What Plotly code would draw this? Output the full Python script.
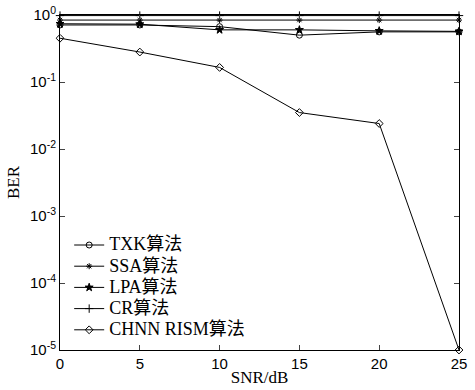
import plotly.graph_objects as go

snr = [0, 5, 10, 15, 20, 25]
txk = [0.71, 0.71, 0.67, 0.50, 0.56, 0.56]
ssa = [0.84, 0.84, 0.84, 0.84, 0.84, 0.84]
lpa = [0.74, 0.73, 0.60, 0.60, 0.58, 0.57]
cr = [0.98, 0.98, 0.98, 0.98, 0.98, 0.98]
chnn = [0.45, 0.28, 0.165, 0.035, 0.024, 1e-5]

ytickvals = [1, 0.1, 0.01, 0.001, 0.0001, 0.00001]
yticktext = ["10<sup>0</sup>", "10<sup>-1</sup>", "10<sup>-2</sup>", "10<sup>-3</sup>", "10<sup>-4</sup>", "10<sup>-5</sup>"]
xtickvals = [0, 5, 10, 15, 20, 25]

series = [
    ("TXK算法", txk, "circle-open", 6),
    ("SSA算法", ssa, "asterisk-open", 5),
    ("LPA算法", lpa, "star", 6),
    ("CR算法", cr, "cross-thin-open", 6),
    ("CHNN RISM算法", chnn, "diamond-open", 6),
]

fig = go.Figure()
for name, vals, sym, sz in series:
    fig.add_trace(go.Scatter(
        x=snr, y=vals, name="<span style='font-size:18px'>" + name + "</span>",
        mode="lines+markers",
        line=dict(color="black", width=1),
        marker=dict(symbol=sym, size=sz, color="black", line=dict(color="black", width=1)),
        cliponaxis=False,
    ))

fig.update_layout(
    width=475, height=390,
    margin=dict(l=60, r=16, t=15, b=40, autoexpand=False),
    plot_bgcolor="white", paper_bgcolor="white",
    showlegend=True,
    legend=dict(x=0.023, y=0.36, xanchor="left", yanchor="top",
                bgcolor="rgba(0,0,0,0)", borderwidth=0,
                font=dict(family="Liberation Serif, Noto Sans CJK SC", size=14, color="black"),
                tracegroupgap=0, itemwidth=30),
    xaxis=dict(range=[0, 25], tickvals=xtickvals, ticks="inside", ticklen=5,
               showline=True, linecolor="black", linewidth=1, mirror="ticks",
               showgrid=False, zeroline=False,
               tickfont=dict(family="Arial", size=15, color="black"),
               title=dict(text="SNR/dB", standoff=0,
                          font=dict(family="Liberation Serif", size=17, color="black"))),
    yaxis=dict(type="log", range=[-5, 0], tickvals=ytickvals, ticktext=yticktext,
               ticks="inside", ticklen=5,
               showline=True, linecolor="black", linewidth=1, mirror="ticks",
               showgrid=False, zeroline=False,
               tickfont=dict(family="Arial", size=15, color="black"),
               title=dict(text="BER", standoff=6,
                          font=dict(family="Liberation Serif", size=17, color="black"))),
)

fig.write_html("out.html", config={"displayModeBar": False},
               post_script="document.body.style.margin='0';")
